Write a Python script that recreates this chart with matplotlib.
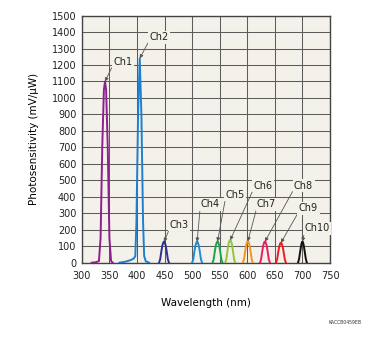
"""Spectral photosensitivity of the 10-channel sensor (Ch1..Ch10)."""

import matplotlib

matplotlib.use("Agg")
import matplotlib.pyplot as plt  # noqa: E402

# --- data -------------------------------------------------------------------
ch1_wl = [318, 326, 331, 334, 337, 340, 342, 344, 347, 350, 353, 356]
ch1_val = [0, 3, 10, 150, 700, 1050, 1100, 1050, 700, 150, 10, 0]

ch2_wl = [368, 378, 388, 394, 397, 399, 402, 405, 408, 411, 413, 416, 422]
ch2_val = [0, 5, 15, 25, 40, 250, 900, 1240, 900, 250, 40, 8, 0]

ch3_wl = [440, 442, 444, 446, 448, 449, 450, 452, 454, 456, 458]
ch3_val = [0, 20, 65, 105, 125, 127, 125, 105, 65, 20, 0]

ch4_wl = [500, 502, 504, 506, 508, 509, 510, 512, 514, 516, 518]
ch4_val = [0, 20, 65, 105, 125, 127, 125, 105, 65, 20, 0]

ch5_wl = [537, 539, 541, 543, 545, 546, 547, 549, 551, 553, 555]
ch5_val = [0, 20, 66, 106, 126, 128, 126, 106, 66, 20, 0]

ch6_wl = [560, 562, 564, 566, 568, 569, 570, 572, 574, 576, 578]
ch6_val = [0, 22, 70, 114, 135, 137, 135, 114, 70, 22, 0]

ch7_wl = [592, 594, 596, 598, 600, 601, 602, 604, 606, 608, 610]
ch7_val = [0, 20, 67, 108, 128, 130, 128, 108, 67, 20, 0]

ch8_wl = [623, 625, 627, 629, 631, 632, 633, 635, 637, 639, 641]
ch8_val = [0, 20, 66, 106, 126, 128, 126, 106, 66, 20, 0]

ch9_wl = [652, 654, 656, 658, 660, 661, 662, 664, 666, 668, 670]
ch9_val = [0, 19, 62, 100, 119, 121, 119, 100, 62, 19, 0]

ch10_wl = [692, 694, 696, 698, 699, 700, 701, 702, 704, 706, 708]
ch10_val = [0, 25, 70, 110, 124, 128, 124, 110, 70, 25, 0]

channels = ["Ch1", "Ch2", "Ch3", "Ch4", "Ch5", "Ch6", "Ch7", "Ch8", "Ch9", "Ch10"]
wavelengths = [ch1_wl, ch2_wl, ch3_wl, ch4_wl, ch5_wl, ch6_wl, ch7_wl, ch8_wl, ch9_wl, ch10_wl]
values = [ch1_val, ch2_val, ch3_val, ch4_val, ch5_val, ch6_val, ch7_val, ch8_val, ch9_val, ch10_val]
colors = ["#8e1f8e", "#1f7fcf", "#2e3192", "#1c8dd9", "#17a84b",
          "#8dc63f", "#f7941d", "#ec1c65", "#ed1c24", "#111111"]

# label text position (wavelength, value)
label_x = [374, 440, 477, 532, 578, 629, 635, 702, 711, 727]
label_y = [1220, 1369, 229, 356, 411, 468, 355, 466, 330, 209]

x_ticks = [300, 350, 400, 450, 500, 550, 600, 650, 700, 750]
y_ticks = list(range(0, 1501, 100))

BG = "#f3f1e9"

fig = plt.figure(figsize=(3.86, 3.47), dpi=100)
ax = fig.add_axes([0.212, 0.243, 0.643, 0.712])
ax.set_facecolor(BG)

for wl, val, c in zip(wavelengths, values, colors):
    ax.plot(wl, val, color=c, lw=1.4, zorder=3)

for name, wl, val, tx, ty in zip(channels, wavelengths, values, label_x, label_y):
    i = val.index(max(val))
    ax.annotate(
        name, xy=(wl[i], val[i]), xytext=(tx, ty),
        ha="center", va="center", fontsize=7, color="#222222", zorder=4,
        bbox=dict(boxstyle="square,pad=0.15", fc=BG, ec="none"),
        arrowprops=dict(arrowstyle="-|>,head_length=0.3,head_width=0.15",
                        color="#555555", lw=0.6, relpos=(0.0, 0.2),
                        shrinkA=0, shrinkB=0),
    )

ax.set_xlim(300, 750)
ax.set_ylim(0, 1500)
ax.set_xticks(x_ticks)
ax.set_yticks(y_ticks)
ax.tick_params(length=0, labelsize=7, colors="#222222")
ax.tick_params(axis="x", pad=6)
ax.tick_params(axis="y", pad=4)
ax.grid(color="#5c5c5c", lw=0.75)
ax.set_axisbelow(True)
for s in ax.spines.values():
    s.set_color("#444444")
    s.set_linewidth(1.0)

ax.set_xlabel("Wavelength (nm)", fontsize=7.5, labelpad=12)
ax.set_ylabel("Photosensitivity (mV/μW)", fontsize=7.5, labelpad=9)
fig.text(0.895, 0.072, "KACCB0459EB", fontsize=3.3, ha="center", va="center", color="#333333")

fig.savefig("out.png", dpi=100, facecolor="white")
